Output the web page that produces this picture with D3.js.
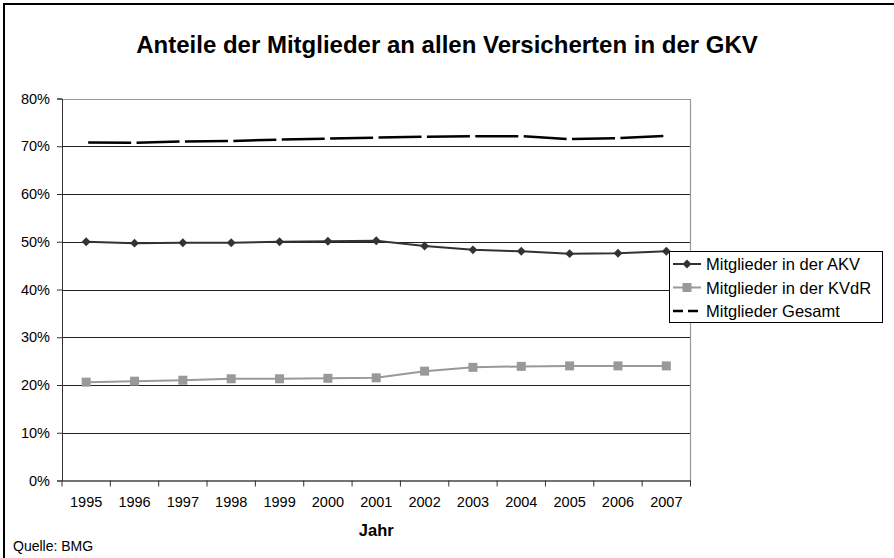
<!DOCTYPE html>
<html>
<head>
<meta charset="utf-8">
<script src="https://cdn.jsdelivr.net/npm/d3@7"></script>
<style>
  body { margin: 0; background: #fff; }
  text { font-family: "Liberation Sans", Arial, sans-serif; }
</style>
</head>
<body>
<div id="chart"></div>
<script>
// Data
const YEARS = ['1995', '1996', '1997', '1998', '1999', '2000', '2001', '2002', '2003', '2004', '2005', '2006', '2007']
const AKV = [50.0, 49.7, 49.8, 49.8, 50.0, 50.1, 50.2, 49.1, 48.3, 48.0, 47.5, 47.6, 48.0]
const KVDR = [20.6, 20.8, 21.0, 21.3, 21.3, 21.4, 21.5, 22.9, 23.7, 23.9, 24.0, 24.0, 24.0]
const GESAMT = [70.8, 70.7, 71.0, 71.1, 71.4, 71.6, 71.8, 72.0, 72.1, 72.1, 71.5, 71.7, 72.2]
const Y_TICKS = [0, 10, 20, 30, 40, 50, 60, 70, 80]
const SERIES_NAMES = ['Mitglieder in der AKV', 'Mitglieder in der KVdR', 'Mitglieder Gesamt']

const WIDTH = 894
const HEIGHT = 558
const PLOT = { left: 62, right: 690.5, top: 98.5, bottom: 480.5 }

const svg = d3.select('#chart')
    .append('svg')
    .attr('width', WIDTH)
    .attr('height', HEIGHT)

// outer frame (only top & left visible)
svg.append('rect')
    .attr('x', 4).attr('y', 4)
    .attr('width', 920).attr('height', 600)
    .attr('fill', 'none')
    .attr('stroke', '#000')
    .attr('stroke-width', 2)

// Scales
const xScale = d3.scaleBand()
    .domain(YEARS)
    .range([PLOT.left, PLOT.right])

const yScale = d3.scaleLinear()
    .domain([0, 80])
    .range([PLOT.bottom, PLOT.top])

const xc = d => xScale(d) + xScale.bandwidth() / 2

// Gridlines
svg.append('g')
    .selectAll('line')
    .data(Y_TICKS.filter(t => t > 0 && t < 80))
    .enter()
    .append('line')
    .attr('x1', PLOT.left).attr('x2', PLOT.right)
    .attr('y1', d => Math.round(yScale(d)) + 0.5)
    .attr('y2', d => Math.round(yScale(d)) + 0.5)
    .attr('stroke', '#222')
    .attr('stroke-width', 1.2)

// plot area border top + right
svg.append('path')
    .attr('d', `M${PLOT.left},${Math.round(PLOT.top) + 0.5}H${PLOT.right}V${PLOT.bottom}`)
    .attr('fill', 'none')
    .attr('stroke', '#999')
    .attr('stroke-width', 1.2)

// Axes
const yAxis = d3.axisLeft(yScale)
    .tickValues(Y_TICKS)
    .tickSize(5)
    .tickPadding(7)
    .tickFormat(d => d + '%')

svg.append('g')
    .attr('id', 'y-axis')
    .attr('transform', `translate(${PLOT.left}, 0)`)
    .call(yAxis)
    .call(g => g.selectAll('text').attr('font-size', 14.5).attr('fill', '#000'))
    .call(g => g.selectAll('line,path').attr('stroke', '#333'))

const xAxis = d3.axisBottom(xScale)
    .tickSize(0)
    .tickPadding(16)

const xg = svg.append('g')
    .attr('id', 'x-axis')
    .attr('transform', `translate(0, ${PLOT.bottom})`)
    .call(xAxis)
    .call(g => g.selectAll('text').attr('font-size', 14.5).attr('fill', '#000'))
    .call(g => g.select('.domain').attr('stroke', '#444').attr('stroke-width', 1.5))

// category boundary ticks
xg.selectAll('.bound')
    .data(YEARS.concat(['end']))
    .enter()
    .append('line')
    .attr('x1', (d, i) => i < YEARS.length ? xScale(d) : PLOT.right)
    .attr('x2', (d, i) => i < YEARS.length ? xScale(d) : PLOT.right)
    .attr('y1', 0).attr('y2', 6)
    .attr('stroke', '#333')

// Lines
const line = values => d3.line()
    .x((d, i) => xc(YEARS[i]))
    .y(d => yScale(d))(values)

svg.append('path')
    .attr('d', line(GESAMT))
    .attr('fill', 'none')
    .attr('stroke', '#000')
    .attr('stroke-width', 2.5)
    .attr('stroke-dasharray', '43 5.4')
    .attr('stroke-dashoffset', -2)

svg.append('path')
    .attr('d', line(AKV))
    .attr('fill', 'none')
    .attr('stroke', '#333')
    .attr('stroke-width', 2)

svg.append('path')
    .attr('d', line(KVDR))
    .attr('fill', 'none')
    .attr('stroke', '#999')
    .attr('stroke-width', 2)

const diamond = d3.symbol().type(d3.symbolDiamond2).size(50)
svg.append('g')
    .selectAll('path')
    .data(AKV)
    .enter()
    .append('path')
    .attr('d', diamond)
    .attr('transform', (d, i) => `translate(${xc(YEARS[i])}, ${yScale(d)})`)
    .attr('fill', '#333')

svg.append('g')
    .selectAll('rect')
    .data(KVDR)
    .enter()
    .append('rect')
    .attr('x', (d, i) => xc(YEARS[i]) - 4.5)
    .attr('y', d => yScale(d) - 4.5)
    .attr('width', 9).attr('height', 9)
    .attr('fill', '#999')

// Legend
const legend = svg.append('g').attr('transform', 'translate(669, 251)')
legend.append('rect')
    .attr('x', 0.5).attr('y', 0.5)
    .attr('width', 213).attr('height', 71)
    .attr('fill', '#fff')
    .attr('stroke', '#000')

const rows = legend.selectAll('g.row')
    .data(SERIES_NAMES)
    .enter()
    .append('g')
    .attr('class', 'row')
    .attr('transform', (d, i) => `translate(0, ${13 + i * 23.5})`)

rows.append('line')
    .attr('x1', 4).attr('x2', 32)
    .attr('y1', 0).attr('y2', 0)
    .attr('stroke', (d, i) => ['#333', '#999', '#000'][i])
    .attr('stroke-width', (d, i) => i === 2 ? 2.5 : 2)
    .attr('stroke-dasharray', (d, i) => i === 2 ? '10 5' : null)

rows.filter((d, i) => i === 0).append('path')
    .attr('d', diamond)
    .attr('transform', 'translate(18, 0)')
    .attr('fill', '#333')

rows.filter((d, i) => i === 1).append('rect')
    .attr('x', 13.5).attr('y', -4.5)
    .attr('width', 9).attr('height', 9)
    .attr('fill', '#999')

rows.append('text')
    .attr('x', 37)
    .attr('y', 6)
    .attr('font-size', 16.5)
    .text(d => d)

// Titles
svg.append('text')
    .attr('x', 447).attr('y', 52.5)
    .attr('text-anchor', 'middle')
    .attr('font-size', 24)
    .attr('font-weight', 'bold')
    .text('Anteile der Mitglieder an allen Versicherten in der GKV')

svg.append('text')
    .attr('x', (PLOT.left + PLOT.right) / 2).attr('y', 536)
    .attr('text-anchor', 'middle')
    .attr('font-size', 16.5)
    .attr('font-weight', 'bold')
    .text('Jahr')

svg.append('text')
    .attr('x', 13).attr('y', 551)
    .attr('font-size', 14)
    .text('Quelle: BMG')
</script>
</body>
</html>
